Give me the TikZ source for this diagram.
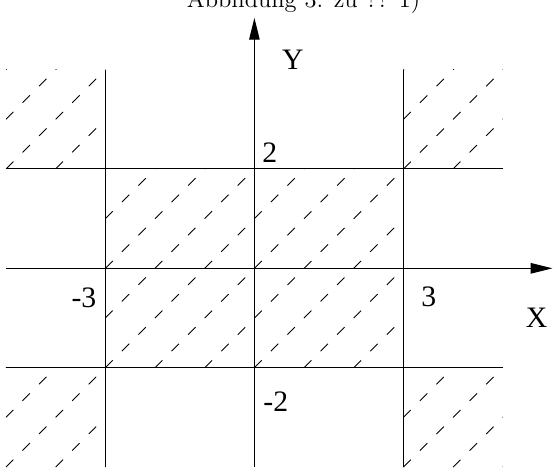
\documentclass[tikz,border=0pt]{standalone}
\usepackage{fontspec}
\usepackage{tikz}
\usetikzlibrary{arrows.meta,positioning}
\newfontfamily\figfont{Liberation Serif}
\newcommand{\hatchlines}{%
  \foreach \k in {-10,...,10}
    \draw[schraffur] (-6,-6+\k) -- (6,6+\k);}

\begin{document}
\begin{tikzpicture}[
    grenze/.style={line width=0.6pt},
    achse/.style={line width=0.6pt, -{Triangle[length=12.5pt,width=6pt]}},
    schraffur/.style={line width=0.5pt, dash pattern=on 6pt off 7.41pt},
    beschr/.style={font=\figfont\fontsize{17}{20}\selectfont, inner sep=0pt}]
    \useasboundingbox (-5.12,-4.095) rectangle (6.09,5.40);
    % hatched regions
    \begin{scope}
      \clip (-3,-2) rectangle (3,2);
      \hatchlines
    \end{scope}
    \foreach \xa/\ya in {-5/2,3/2,-5/-4,3/-4} {
      \begin{scope}
        \clip (\xa,\ya) rectangle ++(2,2);
        \hatchlines
      \end{scope}
    }
    % boundary lines
    \draw[grenze] (-5,2) -- (5,2);
    \draw[grenze] (-5,-2) -- (5,-2);
    \draw[grenze] (-3,4) -- (-3,-4);
    \draw[grenze] (3,4) -- (3,-4);
    % axes
    \draw[achse] (-5,0) -- (6.0,0);
    \draw[achse] (0,-4) -- (0,5.04);
    \node[beschr] (xlab) at (5.68,-1.0) {X};
    \node[beschr] (ylab) at (0.775,4.195) {Y};
    \node[beschr] (ytop) at (0.31,2.32) {2};
    \node[beschr] (ybot) at (0.43,-2.69) {-2};
    \node[beschr] (xleft) at (-3.43,-0.59) {-3};
    \node[beschr] (xright) at (3.51,-0.57) {3};
    \node[font=\fontsize{14}{16}\selectfont, anchor=base, inner sep=0pt] (titel) at (0.99,5.25) {Abbildung 3: zu ?? 1)};
\end{tikzpicture}
\end{document}
